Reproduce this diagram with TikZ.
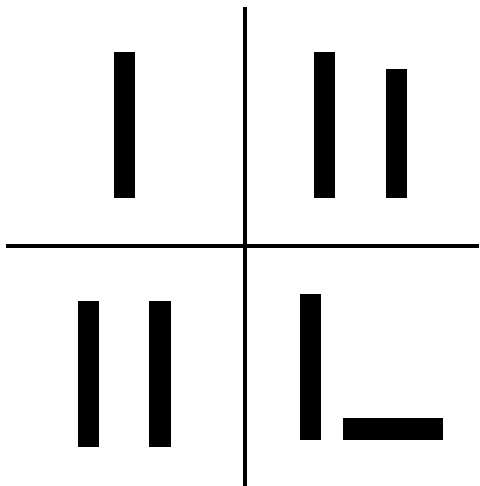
\documentclass[tikz,border=0pt]{standalone}
\begin{document}
\begin{tikzpicture}[x=1pt,y=-1pt,
  bar/.style={fill=black,draw=none},
  axis/.style={draw=black,line width=3.5pt}]
\useasboundingbox[fill=white] (0,0) rectangle (479,486);
\coordinate (vt) at (245,7);
\coordinate (vb) at (245,486);
\coordinate (hl) at (6,246);
\coordinate (hr) at (479,246);
\draw[axis] (vt) -- (vb);
\draw[axis] (hl) -- (hr);
\fill[bar] (114,52) rectangle (135,198);
\fill[bar] (314,52) rectangle (335,198);
\fill[bar] (386,69) rectangle (407,198);
\fill[bar] (78,301) rectangle (99,447);
\fill[bar] (149,301) rectangle (171,447);
\fill[bar] (300,294) rectangle (321,440);
\fill[bar] (343,418) rectangle (443,440);
\end{tikzpicture}
\end{document}
